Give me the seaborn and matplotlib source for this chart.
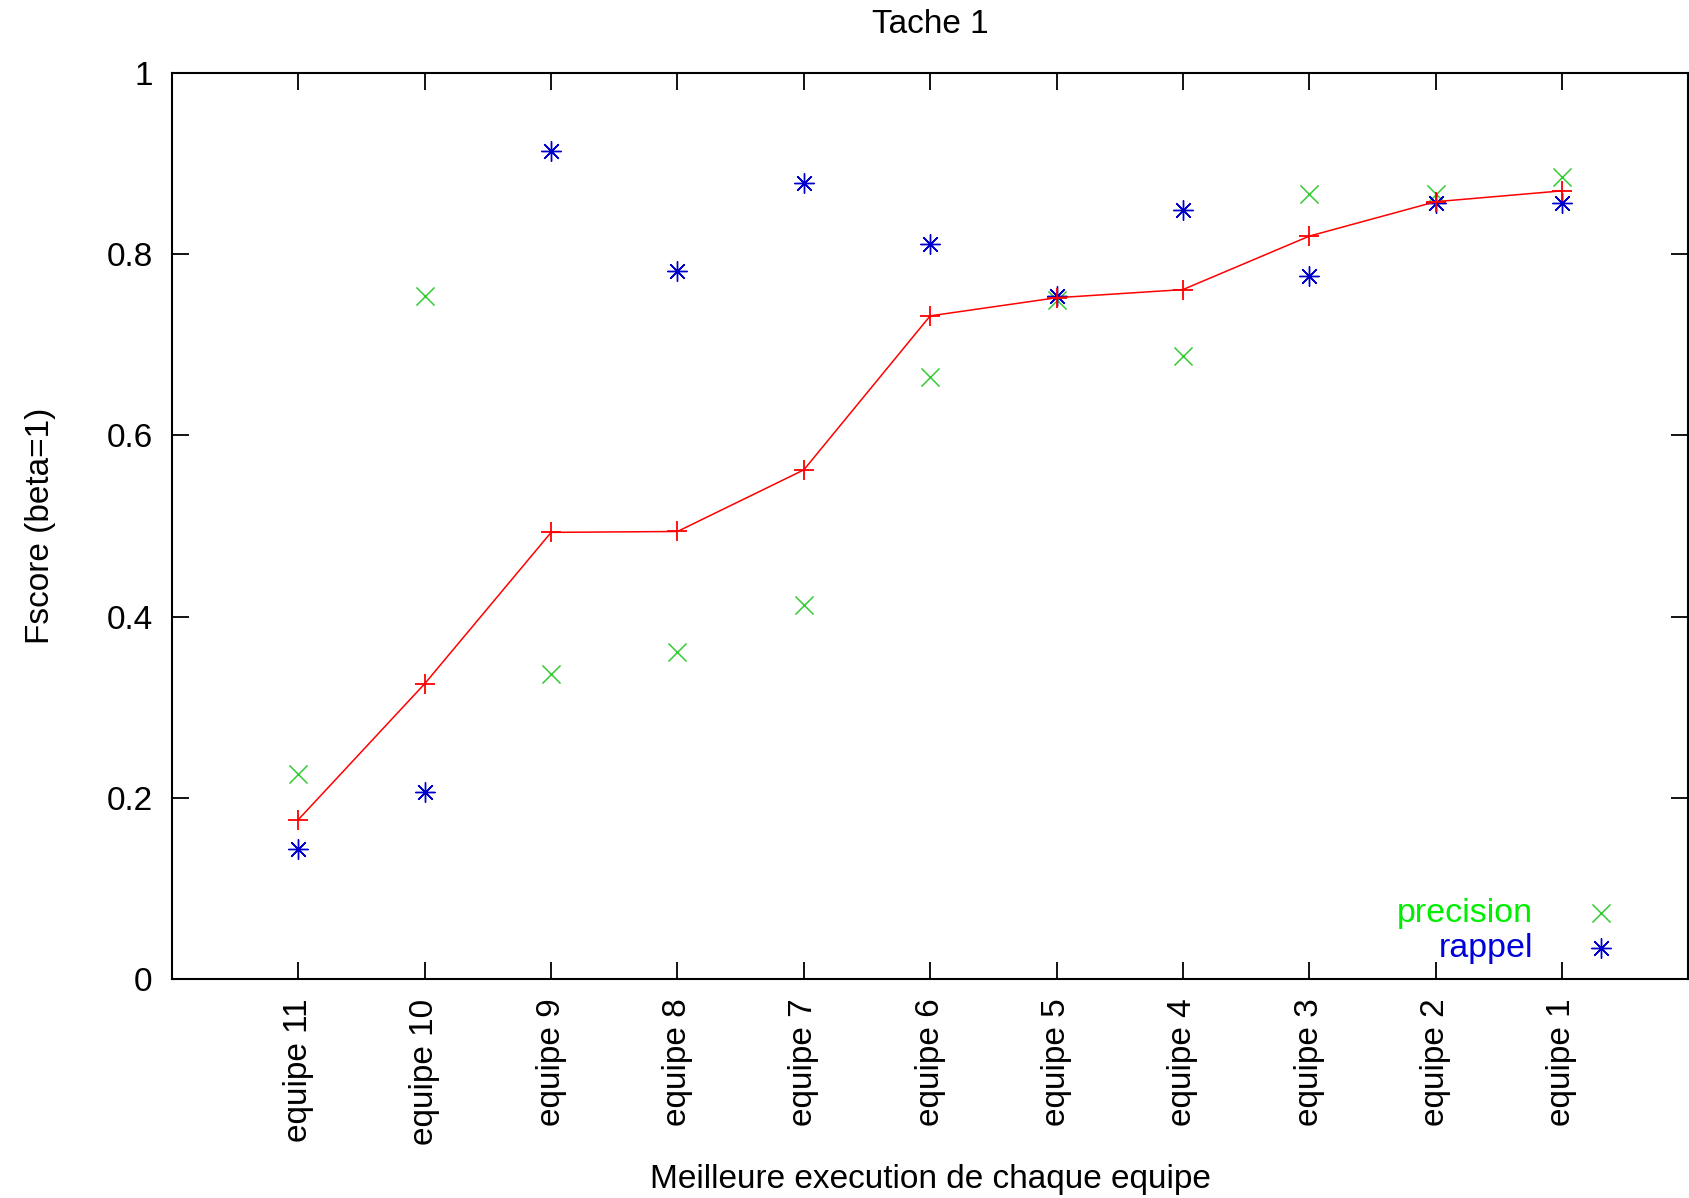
import numpy as np
import pandas as pd
import seaborn as sns
import matplotlib.pyplot as plt

# teams, worst to best (as on the x axis)
equipes = ["equipe 11", "equipe 10", "equipe 9", "equipe 8", "equipe 7", "equipe 6",
           "equipe 5", "equipe 4", "equipe 3", "equipe 2", "equipe 1"]
precision = [0.226, 0.754, 0.337, 0.361, 0.413, 0.665, 0.750, 0.688, 0.867, 0.866, 0.885]
rappel = [0.144, 0.206, 0.914, 0.782, 0.879, 0.811, 0.754, 0.849, 0.776, 0.857, 0.857]
fscore = [0.176, 0.326, 0.493, 0.494, 0.562, 0.732, 0.752, 0.761, 0.820, 0.858, 0.870]
yticks = [0, 0.2, 0.4, 0.6, 0.8, 1]
ytick_labels = ["0", "0.2", "0.4", "0.6", "0.8", "1"]

sns.set_theme(style="white")
plt.rcParams["font.family"] = ["Liberation Sans", "DejaVu Sans"]
plt.rcParams["text.color"] = "black"
plt.rcParams["axes.labelcolor"] = "black"
plt.rcParams["xtick.color"] = "black"
plt.rcParams["ytick.color"] = "black"

df = pd.DataFrame({"pos": np.arange(1, len(equipes) + 1), "equipe": equipes,
                   "precision": precision, "rappel": rappel, "fscore": fscore})

fig = plt.figure(figsize=(16.9, 11.98), dpi=100)
ax = fig.add_axes([0.1018, 0.1828, 0.8972, 0.7562])

asterisk = (8, 2, 0)
sns.lineplot(data=df, x="pos", y="fscore", ax=ax, color="#ff0000", linewidth=1.1,
             marker="+", markersize=15, markeredgewidth=1.3, markeredgecolor="#ff0000",
             sort=False, label="_nolegend_")
sns.scatterplot(data=df, x="pos", y="precision", ax=ax, color="#33cc33", marker="x",
                s=170, linewidth=1.1, label="precision")
sns.scatterplot(data=df, x="pos", y="rappel", ax=ax, color="#0000cc", marker=asterisk,
                s=200, linewidth=1.0, label="rappel")

ax.set_xlim(0, 12)
ax.set_ylim(0, 1)
ax.set_xticks(df["pos"])
ax.set_xticklabels(equipes, rotation=90, fontsize=24)
ax.set_yticks(yticks)
ax.set_yticklabels(ytick_labels, fontsize=24)
ax.tick_params(direction="in", length=12, width=1.3, color="black",
               top=True, right=True, bottom=True, left=True)
ax.tick_params(axis="x", pad=14)
ax.tick_params(axis="y", pad=14)
for sp in ax.spines.values():
    sp.set_color("black")
    sp.set_linewidth(1.5)

ax.set_xlabel("Meilleure execution de chaque equipe", fontsize=24, labelpad=14)
ax.set_ylabel("Fscore (beta=1)", fontsize=24, labelpad=36)
ax.set_title("Tache 1", fontsize=24, pad=29)

leg = ax.legend(loc="lower right", bbox_to_anchor=(0.974, -0.017), markerfirst=False,
                frameon=False, fontsize=24.5, labelcolor=["#00ee00", "#0000dd"],
                handletextpad=1.5, labelspacing=0.1, handlelength=1.0)

fig.savefig("out.png", dpi=100)
